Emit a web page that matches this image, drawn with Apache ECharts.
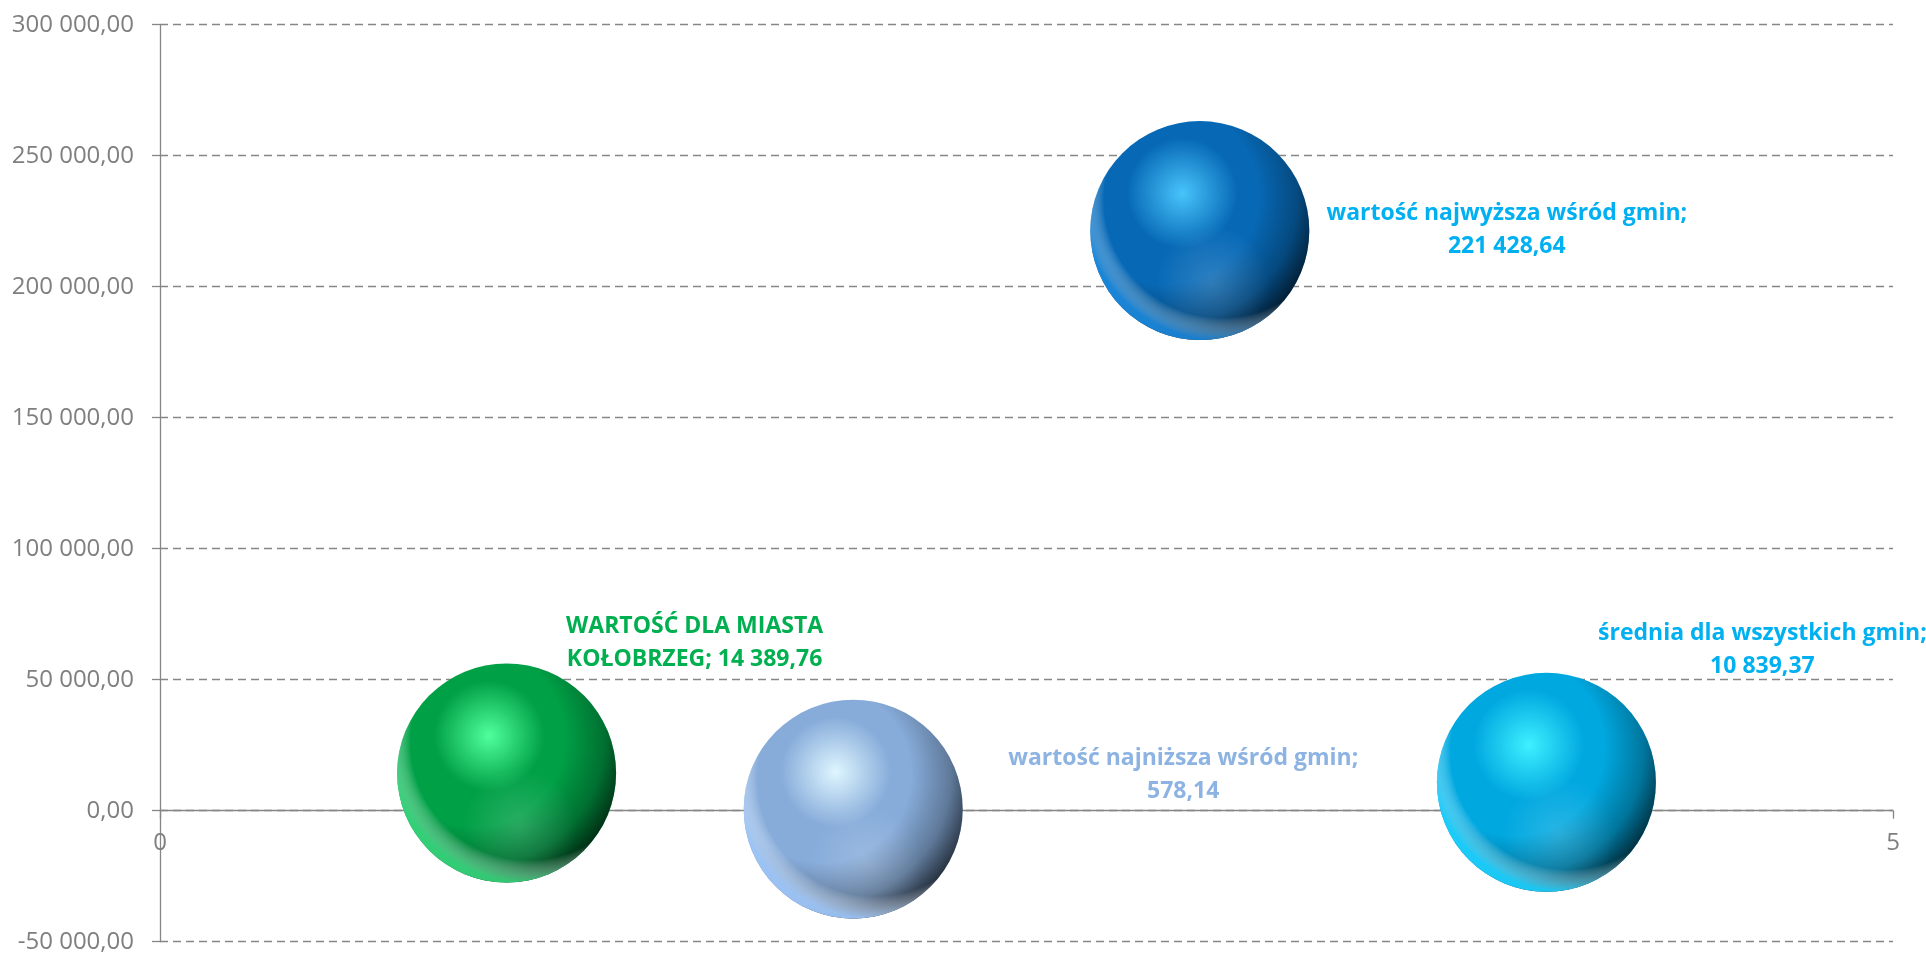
<!DOCTYPE html>
<html>
<head>
<meta charset="utf-8">
<script src="https://cdn.jsdelivr.net/npm/echarts@6/dist/echarts.min.js"></script>
<style>
html,body{margin:0;padding:0;background:#fff;}
#chart{width:1926px;height:954px;}
</style>
</head>
<body>
<div id="chart"></div>
<script>
// ---- data ----
const names = [
  "WARTOŚĆ DLA MIASTA\nKOŁOBRZEG",
  "wartość najniższa wśród gmin",
  "wartość najwyższa wśród gmin",
  "średnia dla wszystkich gmin"
];
const xValues = [1, 2, 3, 4];
const yValues = [14389.76, 578.14, 221428.64, 10839.37];
const yTicks = { min: -50000, max: 300000, interval: 50000 };
const xTicks = { min: 0, max: 5, interval: 5 };

// ---- styling ----
const labelColors = ['#00B050', '#8DB3E2', '#00B0F0', '#00B0F0'];
const sphere = [
  { hi: '#50ff9c', base: '#00a046', rim: 'rgba(60,220,130,0.85)' },
  { hi: '#dff6ff', base: '#87acda', rim: 'rgba(160,200,250,0.9)' },
  { hi: '#48c4fb', base: '#0769b6', rim: 'rgba(30,140,225,0.85)' },
  { hi: '#3ef0ff', base: '#00a8e0', rim: 'rgba(30,210,255,0.9)' }
];
const labelOffsets = [[188, -130], [330, -34], [307, -1], [216, -132]];
const separators = [' ', '\n', '\n', '\n'];
const SIZE = 219;
const GRID = { left: 160, right: 33, top: 24.7, bottom: 12.3 };
const PLOT_H = 954 - GRID.top - GRID.bottom;
// distance (px) from the bottom of the plot to the y = 0 line, from the axis scale
const zeroOffset = PLOT_H * (0 - yTicks.min) / (yTicks.max - yTicks.min);

function fmt(v) {
  const neg = v < 0;
  const s = Math.abs(v).toFixed(2).split('.');
  const intPart = s[0].replace(/\B(?=(\d{3})+(?!\d))/g, ' ');
  return (neg ? '-' : '') + intPart + ',' + s[1];
}

function layer(gradientFor) {
  return xValues.map((x, i) => ({
    value: [x, yValues[i]],
    itemStyle: { opacity: 1, color: gradientFor(i) }
  }));
}

const baseData = xValues.map((x, i) => ({
  value: [x, yValues[i]],
  name: names[i],
  itemStyle: {
    opacity: 1,
    color: {
      type: 'radial', x: 0.42, y: 0.33, r: 0.36,
      colorStops: [
        { offset: 0, color: sphere[i].hi },
        { offset: 0.7, color: sphere[i].base },
        { offset: 1, color: sphere[i].base }
      ]
    }
  },
  label: {
    show: true,
    position: 'inside',
    offset: labelOffsets[i],
    color: labelColors[i],
    fontFamily: 'Open Sans',
    fontWeight: 'bold',
    fontSize: 23,
    lineHeight: 33,
    align: 'center',
    formatter: names[i] + ';' + separators[i] + fmt(yValues[i])
  }
}));

const shadeData = layer(() => ({
  type: 'radial', x: 0.36, y: 0.34, r: 0.84,
  colorStops: [
    { offset: 0, color: 'rgba(0,0,0,0)' },
    { offset: 0.48, color: 'rgba(0,0,0,0)' },
    { offset: 0.7, color: 'rgba(0,0,0,0.3)' },
    { offset: 0.86, color: 'rgba(0,0,0,0.75)' },
    { offset: 1, color: 'rgba(0,0,0,0.95)' }
  ]
}));

const glowData = layer(() => ({
  type: 'radial', x: 0.56, y: 0.74, r: 0.26,
  colorStops: [
    { offset: 0, color: 'rgba(255,255,255,0.16)' },
    { offset: 1, color: 'rgba(255,255,255,0)' }
  ]
}));

const rimData = layer(i => ({
  type: 'radial', x: 0.6, y: 0.36, r: 0.64,
  colorStops: [
    { offset: 0, color: 'rgba(255,255,255,0)' },
    { offset: 0.84, color: 'rgba(255,255,255,0)' },
    { offset: 1, color: sphere[i].rim }
  ]
}));

const chart = echarts.init(document.getElementById('chart'));
chart.setOption({
  backgroundColor: '#fff',
  animation: false,
  grid: Object.assign({ outerBoundsMode: 'none', containLabel: false }, GRID),
  xAxis: {
    type: 'value',
    position: 'bottom',
    offset: -zeroOffset,
    min: xTicks.min, max: xTicks.max, interval: xTicks.interval,
    axisLine: { show: true, onZero: false, lineStyle: { color: '#868686', width: 1.3 } },
    axisTick: { show: true, length: 8, lineStyle: { color: '#868686', width: 1.3 } },
    axisLabel: { show: true, showMinLabel: true, showMaxLabel: true,
                 color: '#7f7f7f', fontFamily: 'Open Sans', fontSize: 24, margin: 20 },
    splitLine: { show: false }
  },
  yAxis: {
    type: 'value',
    min: yTicks.min, max: yTicks.max, interval: yTicks.interval,
    axisLine: { show: true, lineStyle: { color: '#868686', width: 1.3 } },
    axisTick: { show: true, length: 8, lineStyle: { color: '#868686', width: 1.3 } },
    axisLabel: { color: '#7f7f7f', fontFamily: 'Open Sans', fontSize: 24, margin: 26, formatter: fmt },
    splitLine: { show: true, lineStyle: { color: '#868686', type: [8, 5], width: 1.3 } }
  },
  series: [
    { type: 'scatter', symbol: 'circle', symbolSize: SIZE, data: baseData, z: 3 },
    { type: 'scatter', symbol: 'circle', symbolSize: SIZE, data: shadeData, z: 4, silent: true },
    { type: 'scatter', symbol: 'circle', symbolSize: SIZE, data: glowData, z: 5, silent: true },
    { type: 'scatter', symbol: 'circle', symbolSize: SIZE, data: rimData, z: 6, silent: true }
  ]
});
</script>
</body>
</html>
